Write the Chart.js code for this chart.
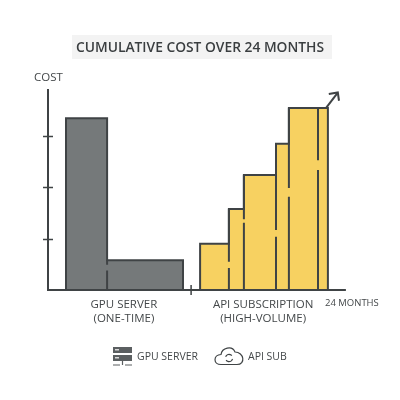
<!DOCTYPE html>
<html>
<head>
<meta charset="utf-8">
<style>
  html, body { margin: 0; padding: 0; background: #fff; }
  #wrap { width: 400px; height: 400px; }
</style>
<script src="https://cdn.jsdelivr.net/npm/chart.js@4"></script>
</head>
<body>
<div id="wrap"><canvas id="costChart" width="400" height="400"></canvas></div>
<script>
// x is in chart units (3px each), y is cost in tick units
const gpuEdges = [6, 19.7, 45];
const gpuCost = [3.35, 0.58];
const apiEdges = [50.7, 60.3, 65.3, 76, 80.3, 93.3];
const apiCost = [0.9, 1.58, 2.24, 2.85, 3.55];

// inner dividers: x, top of lower piece, bottom of upper piece, top of upper piece
const gpuDividers = [[19.7, 0.38, 0.49, 0.58]];
const apiDividers = [
  [60.3, 0.43, 0.55, 1.58],
  [65.3, 1.31, 1.38, 2.24],
  [76, 1.04, 1.17, 2.85],
  [80.3, 1.82, 1.99, 3.55],
  [90, 2.34, 2.53, 3.55]
];

const xTickValues = [25.3, 71.7, 101.3];
const xTickLabels = [['GPU SERVER', '(ONE-TIME)'], ['API SUBSCRIPTION', '(HIGH-VOLUME)'], ['24 MONTHS']];
const yTickValues = [1, 2, 3];
const xAxisEnd = 99.3;
const xBreak = 47.7;
const arrowLine = [[92.7, 3.55], [96.6, 3.85]];
const arrowHead = [[93.6, 3.82], [96.6, 3.85], [97, 3.69]];

const INK = '#3f4345';
const TEXT = '#44484a';
const FONT = '"Open Sans", "Noto Sans", sans-serif';

// closed outline of a staircase of bars
function stepOutline(edges, heights) {
  const pts = [{x: edges[0], y: 0}];
  heights.forEach((h, i) => {
    pts.push({x: edges[i], y: h});
    pts.push({x: edges[i + 1], y: h});
  });
  pts.push({x: edges[edges.length - 1], y: 0});
  return pts;
}

function dividerPoints(list) {
  const pts = [];
  list.forEach(d => {
    pts.push({x: d[0], y: 0}, {x: d[0], y: d[1]}, {x: d[0], y: null});
    pts.push({x: d[0], y: d[2]}, {x: d[0], y: d[3]}, {x: d[0], y: null});
  });
  return pts;
}

function lineSet(label, data, width) {
  return {label, data, showLine: true, fill: false, borderColor: INK, borderWidth: width,
    pointRadius: 0, spanGaps: false, tension: 0, clip: false};
}

// first dataset is painted last, so the lines go before the filled bars
const datasets = [
  lineSet('arrow', arrowLine.map(p => ({x: p[0], y: p[1]})), 2),
  lineSet('arrow head', arrowHead.map(p => ({x: p[0], y: p[1]})), 2),
  lineSet('x axis', [{x: 0, y: 0}, {x: xAxisEnd, y: 0}], 2),
  lineSet('gpu dividers', dividerPoints(gpuDividers), 2),
  lineSet('api dividers', dividerPoints(apiDividers), 2),
  {label: 'GPU Server', data: stepOutline(gpuEdges, gpuCost), showLine: true, fill: 'origin',
    backgroundColor: '#75797a', borderColor: INK, borderWidth: 2, pointRadius: 0, tension: 0},
  {label: 'API Sub', data: stepOutline(apiEdges, apiCost), showLine: true, fill: 'origin',
    backgroundColor: '#f7d161', borderColor: INK, borderWidth: 2, pointRadius: 0, tension: 0}
];

// title box, tick marks, cost label and the icon legend
const decorations = {
  id: 'decorations',
  beforeDraw(chart) {
    const c = chart.ctx;
    c.save();
    c.fillStyle = '#f3f3f3';
    c.fillRect(72, 35, 260, 24);
    c.restore();
  },
  afterDraw(chart) {
    const c = chart.ctx;
    const xs = chart.scales.x;
    const ys = chart.scales.y;
    c.save();
    c.strokeStyle = INK;
    c.lineWidth = 1.5;
    c.beginPath();
    yTickValues.forEach(v => {
      const y = Math.round(ys.getPixelForValue(v)) + 0.5;
      c.moveTo(xs.left - 5, y);
      c.lineTo(xs.left + 5, y);
    });
    const bx = xs.getPixelForValue(xBreak);
    c.moveTo(bx, ys.bottom - 5);
    c.lineTo(bx, ys.bottom + 5);
    c.stroke();

    c.fillStyle = TEXT;
    c.textBaseline = 'middle';
    c.font = '11.5px ' + FONT;
    c.fillText('COST', 34, 78);
    c.font = '10.5px ' + FONT;
    c.fillText('GPU SERVER', 137, 357);
    c.fillText('API SUB', 248, 357);

    // server icon
    c.fillStyle = '#5b5f61';
    c.fillRect(113, 347, 19, 6);
    c.fillRect(113, 355, 19, 6);
    c.fillStyle = '#d9d9d9';
    c.fillRect(115, 349, 4, 1.5);
    c.fillRect(115, 357, 4, 1.5);
    c.strokeStyle = '#5b5f61';
    c.lineWidth = 1.2;
    c.beginPath();
    c.moveTo(122.5, 361); c.lineTo(122.5, 365);
    c.moveTo(113, 365); c.lineTo(120, 365);
    c.moveTo(125, 365); c.lineTo(132, 365);
    c.stroke();

    // cloud icon with the refresh arrows
    c.strokeStyle = INK;
    c.lineWidth = 1.2;
    c.beginPath();
    c.moveTo(221, 364.5);
    c.bezierCurveTo(213, 364.5, 213, 355, 221, 354.5);
    c.bezierCurveTo(222, 348, 232, 345, 235, 352);
    c.bezierCurveTo(244, 352, 246, 364.5, 237, 364.5);
    c.closePath();
    c.stroke();
    c.beginPath();
    c.arc(229, 358, 3.6, 3.5, 5.6);
    c.moveTo(232.4, 359);
    c.arc(229, 358, 3.6, 0.3, 2.5);
    c.stroke();
    c.restore();
  }
};

new Chart(document.getElementById('costChart'), {
  type: 'scatter',
  data: {datasets},
  plugins: [decorations],
  options: {
    responsive: false,
    animation: false,
    layout: {padding: {top: 40, right: 0, bottom: 0, left: 0}},
    plugins: {
      legend: {display: false},
      tooltip: {enabled: false},
      title: {
        display: true,
        text: 'CUMULATIVE COST OVER 24 MONTHS',
        color: '#3a3e40',
        font: {family: FONT, size: 13.8, weight: '600', lineHeight: 1.2},
        padding: {top: 0, bottom: 33.4}
      }
    },
    scales: {
      x: {
        type: 'linear',
        min: 0,
        max: 352 / 3,
        grid: {display: false},
        border: {display: false},
        afterFit(s) { s.height = 110; },
        afterBuildTicks(s) { s.ticks = xTickValues.map(value => ({value})); },
        ticks: {
          autoSkip: false,
          maxRotation: 0,
          padding: 0,
          color: TEXT,
          font: ctx => ({family: FONT, size: ctx.index === 2 ? 9.5 : 11.5, lineHeight: 1.2}),
          callback: (v, i) => xTickLabels[i]
        }
      },
      y: {
        min: 0,
        max: 3.9,
        grid: {display: false},
        border: {color: INK, width: 2},
        afterFit(s) { s.width = 48; },
        afterBuildTicks(s) { s.ticks = yTickValues.map(value => ({value})); },
        ticks: {display: false}
      }
    }
  }
});
</script>
</body>
</html>
